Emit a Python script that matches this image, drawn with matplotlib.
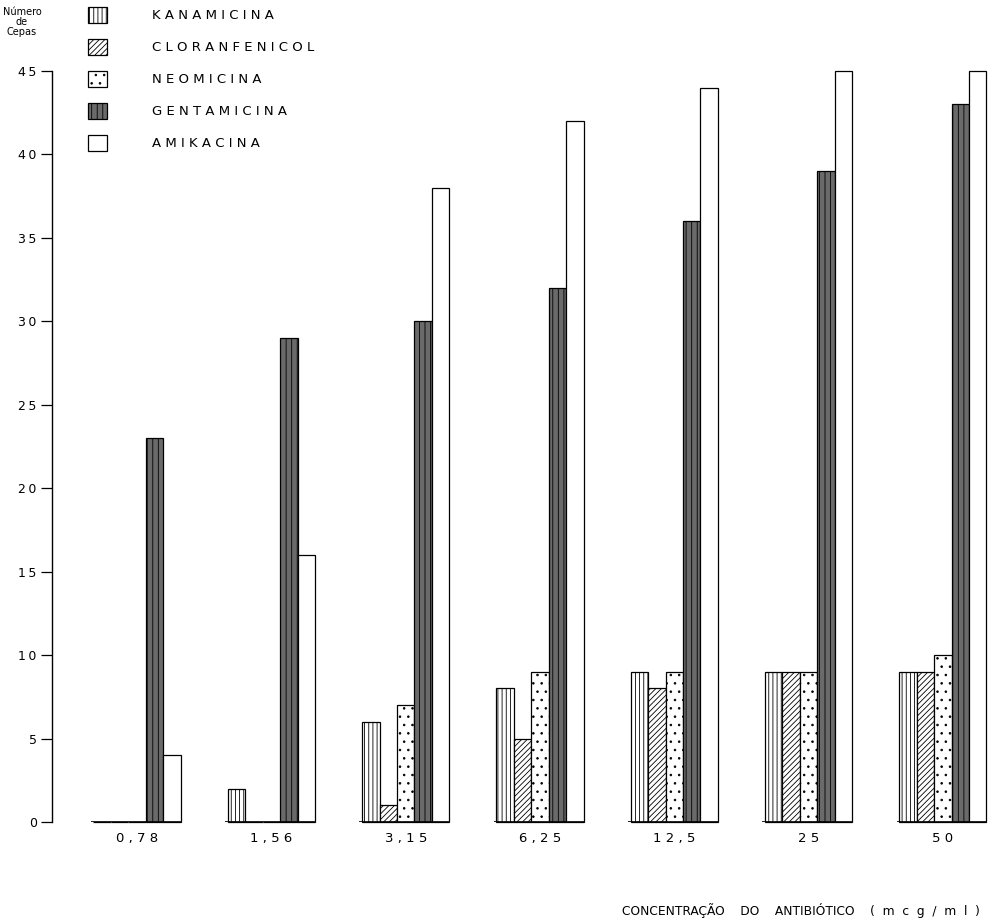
import matplotlib
matplotlib.use('Agg')
import matplotlib.pyplot as plt
from matplotlib.patches import Patch
import numpy as np

# concentracao do antibiotico (mcg/ml)
concentracoes = ['0,78', '1,56', '3,15', '6,25', '12,5', '25', '50']

# numero de cepas inibidas por antibiotico
kanamicina = [0, 2, 6, 8, 9, 9, 9]
cloranfenicol = [0, 0, 1, 5, 8, 9, 9]
neomicina = [0, 0, 7, 9, 9, 9, 10]
gentamicina = [23, 29, 30, 32, 36, 39, 43]
amikacina = [4, 16, 38, 42, 44, 45, 45]

nomes = ['KANAMICINA', 'CLORANFENICOL', 'NEOMICINA', 'GENTAMICINA', 'AMIKACINA']
series = [kanamicina, cloranfenicol, neomicina, gentamicina, amikacina]

plt.rcParams['hatch.linewidth'] = 0.6

estilos = [
    dict(facecolor='white', hatch='||||'),
    dict(facecolor='white', hatch='//////'),
    dict(facecolor='white', hatch='..'),
    dict(facecolor='#6a6a6a', hatch='|||'),
    dict(facecolor='white', hatch=None),
]


def espacado(txt, sep=' '):
    return sep.join(txt)


fig = plt.figure(figsize=(9.92, 9.22), dpi=100)
ax = fig.add_axes([52 / 992, 100 / 922, 940 / 992, 751 / 922])

x = np.arange(len(concentracoes))
w = 0.13

for k, (vals, est) in enumerate(zip(series, estilos)):
    pos = x + (k - 2) * w
    ax.bar(pos, vals, width=w, edgecolor='black', linewidth=0.9,
           clip_on=False, **est)

# linha de base de cada grupo
for i in x:
    ax.hlines(0, i - 2.5 * w - 0.02, i + 2.5 * w, color='black', linewidth=1.2)

ax.set_xlim(-0.634, 6.366)
ax.set_ylim(0, 45)

for s in ['top', 'right', 'bottom']:
    ax.spines[s].set_visible(False)
ax.spines['left'].set_bounds(0, 45)
ax.spines['left'].set_linewidth(1.0)

ax.set_yticks(range(0, 46, 5))
ax.set_yticklabels([espacado(str(v), '\u2009') for v in range(0, 46, 5)], fontsize=9)
ax.tick_params(axis='y', direction='out', length=8, width=0.9, pad=3)

ax.set_xticks(x)
ax.set_xticklabels([espacado(c) for c in concentracoes], fontsize=9.5)
ax.tick_params(axis='x', length=0, pad=7)

fig.text(22 / 992, 1 - 7 / 922, 'Número\nde\nCepas', ha='center', va='top',
         fontsize=7, linespacing=1.0)

handles = [Patch(edgecolor='black', linewidth=0.9, **est) for est in estilos]
fig.legend(handles, [espacado(n) for n in nomes], loc='upper left',
           bbox_to_anchor=(88 / 992, 1 - 7 / 922), frameon=False,
           fontsize=9.5, handlelength=1.42, handleheight=1.5,
           labelspacing=1.2, handletextpad=3.4, borderpad=0, borderaxespad=0)

fig.text(622 / 992, 1 - 910 / 922,
         'CONCENTRAÇÃO    DO    ANTIBIÓTICO    (  m  c  g  /  m  l  )',
         ha='left', va='center', fontsize=8.8)

fig.savefig('out.png', dpi=100)
